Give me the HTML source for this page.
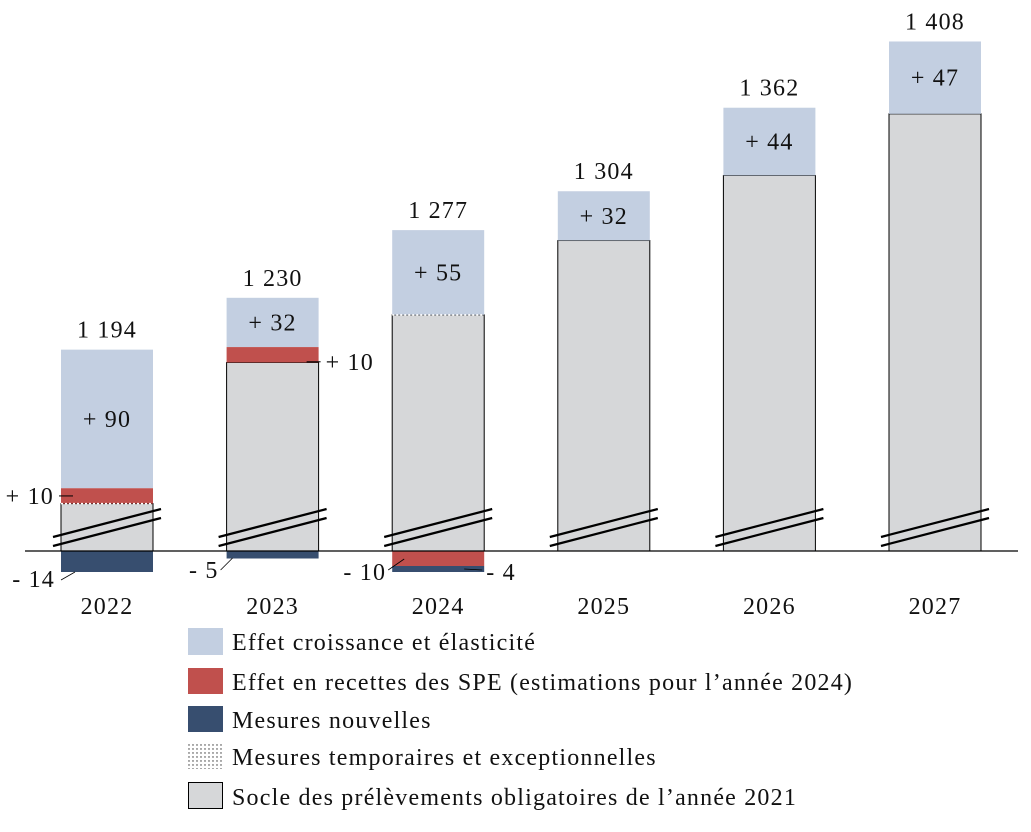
<!DOCTYPE html>
<html><head><meta charset="utf-8"><style>
body{margin:0;background:#fff;}
svg text{font-family:"Liberation Serif",serif;font-size:24px;letter-spacing:1.2px;fill:#111;}
</style></head><body>
<svg id="chart" width="1031" height="827" xmlns="http://www.w3.org/2000/svg">
<defs><pattern id="dots" width="4" height="4" patternUnits="userSpaceOnUse"><rect width="4" height="4" fill="#fff"/><circle cx="1" cy="1" r="0.7" fill="#333"/></pattern></defs>
<g id="bars"></g>
<line x1="25" y1="551" x2="1018" y2="551" stroke="#000" stroke-width="1.3"/>
<g id="legend">
<rect x="188" y="628" width="35" height="27" fill="#c3cfe1"/>
<text x="232" y="650">Effet croissance et élasticité</text>
<rect x="188" y="668" width="35" height="26" fill="#c0504d"/>
<text x="232" y="690">Effet en recettes des SPE (estimations pour l’année 2024)</text>
<rect x="188" y="706" width="35" height="26" fill="#374e6f"/>
<text x="232" y="728">Mesures nouvelles</text>
<rect x="188" y="743" width="35" height="26" fill="url(#dots)"/>
<text x="232" y="765">Mesures temporaires et exceptionnelles</text>
<rect x="188.5" y="782.5" width="34" height="26" fill="#d6d7d9" stroke="#000"/>
<text x="232" y="805">Socle des prélèvements obligatoires de l’année 2021</text>
</g>
</svg>
<script>
const years=['2022','2023','2024','2025','2026','2027'];
const totals=[1194,1230,1277,1304,1362,1408];
const totalLabels=['1 194','1 230','1 277','1 304','1 362','1 408'];
const growth=[90,32,55,32,44,47];
const spePos=[10,10,0,0,0,0];
const speNeg=[0,0,10,0,0,0];
const newNeg=[14,5,4,0,0,0];
const tempLine=[true,false,true,false,false,false];

const NS='http://www.w3.org/2000/svg';
const g=document.getElementById('bars');
const AXIS=551, BW=92, S=1.54, NS_SCALE=1.5;
function xC(i){return 107+i*165.6;}
function yTop(v){return 2069-1.44*v;}
function mk(tag,attrs,parent){const e=document.createElementNS(NS,tag);for(const k in attrs)e.setAttribute(k,attrs[k]);(parent||g).appendChild(e);return e;}
function txt(x,y,s,anchor){const t=mk('text',{x:x,y:y,'text-anchor':anchor||'middle'});t.textContent=s;return t;}

years.forEach((yr,i)=>{
  const cx=xC(i), x0=cx-BW/2;
  const top=yTop(totals[i]);
  const gh=growth[i]*S, sh=spePos[i]*S;
  const baseTop=top+gh+sh;
  const base=mk('rect',{x:x0,y:baseTop,width:BW,height:AXIS-baseTop,fill:'#d6d7d9',stroke:'#000','stroke-width':1});
  
  
  const gr=mk('rect',{x:x0,y:top,width:BW,height:gh,fill:'#c3cfe1'});
  
  
  if(sh>0){
    const r=mk('rect',{x:x0,y:top+gh,width:BW,height:sh,fill:'#c0504d'});
    
    
  }
  if(tempLine[i]){
    const l=mk('line',{x1:x0,y1:baseTop,x2:x0+BW,y2:baseTop,stroke:'#fff','stroke-width':1.5,'stroke-dasharray':'2 2'});
    
    
  }
  let ny=AXIS;
  if(speNeg[i]>0){
    const h=speNeg[i]*NS_SCALE;
    const r=mk('rect',{x:x0,y:ny,width:BW,height:h,fill:'#c0504d'});
    
    
    ny+=h;
  }
  if(newNeg[i]>0){
    const h=newNeg[i]*NS_SCALE;
    const r=mk('rect',{x:x0,y:ny,width:BW,height:h,fill:'#374e6f'});
    
    
    ny+=h;
  }
  [0,9].forEach(d=>{
    const l=mk('line',{x1:x0-8,y1:537+d,x2:x0+BW+8,y2:509+d,stroke:'#000','stroke-width':2.2});
    
    
  });
  const tl=txt(cx,top-12,totalLabels[i]);
  
  
  const gl=txt(cx,top+gh/2+8,'+ '+growth[i]);
  
  
  const yl=txt(cx,614,yr);
  
  
  if(spePos[i]>0){
    const my=top+gh+sh/2;
    if(i===0){
      mk('line',{x1:x0-2,y1:my,x2:x0+12,y2:my,stroke:'#000','stroke-width':1});
      const t=txt(x0-7,my+8,'+ '+spePos[i],'end');
      
      
    }else{
      mk('line',{x1:x0+BW-12,y1:my+7,x2:x0+BW+2,y2:my+7,stroke:'#000','stroke-width':1});
      const t=txt(x0+BW+7,my+15,'+ '+spePos[i],'start');
      
      
    }
  }
  if(i===0){
    mk('line',{x1:x0,y1:580,x2:x0+14,y2:572,stroke:'#000','stroke-width':0.8});
    const t=txt(x0-6,587,'- '+newNeg[i],'end');
    
    
  }else if(i===1){
    mk('line',{x1:x0-6,y1:570,x2:x0+6,y2:558,stroke:'#000','stroke-width':0.8});
    const t=txt(x0-8,578,'- '+newNeg[i],'end');
    
    
  }else if(i===2){
    mk('line',{x1:x0-4,y1:570,x2:x0+12,y2:559,stroke:'#000','stroke-width':0.8});
    const t=txt(x0-6,580,'- '+speNeg[i],'end');
    
    
    mk('line',{x1:x0+BW-20,y1:569,x2:x0+BW-2,y2:570,stroke:'#000','stroke-width':0.8});
    const t2=txt(x0+BW+2,580,'- '+newNeg[i],'start');
    
    
  }
});
</script>
</body></html>
